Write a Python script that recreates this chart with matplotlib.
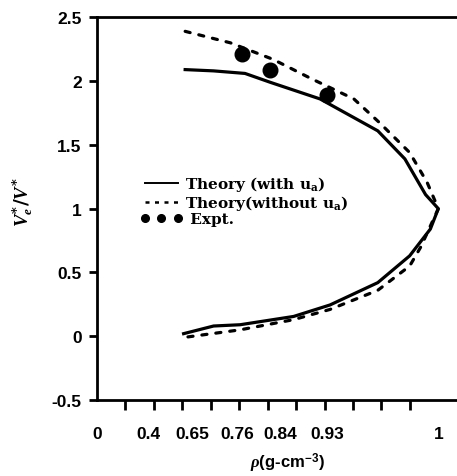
"""V_e*/V* versus density: theory with/without u_a and experiment."""
import matplotlib
matplotlib.use("Agg")
import matplotlib.pyplot as plt
from matplotlib.lines import Line2D
import numpy as np

plt.rcParams["mathtext.fontset"] = "custom"
plt.rcParams["mathtext.rm"] = "DejaVu Serif:bold"
plt.rcParams["mathtext.it"] = "Liberation Serif:italic:bold"
plt.rcParams["mathtext.bf"] = "DejaVu Serif:bold"
plt.rcParams["mathtext.sf"] = "Liberation Sans:bold"

# ── Data ───────────────────────────────────────────────────────────────────
# theory with u_a, upper and lower branch
SOLID_UP_RHO = [0.611, 0.703, 0.775, 0.822, 0.917, 0.962, 0.979, 0.992, 1.0]
SOLID_UP_V   = [2.09, 2.08, 2.06, 1.99, 1.86, 1.61, 1.39, 1.11, 1.0]
SOLID_LO_RHO = [0.602, 0.703, 0.766, 0.866, 0.932, 0.962, 0.982, 0.995, 1.0]
SOLID_LO_V   = [0.02, 0.08, 0.09, 0.155, 0.245, 0.42, 0.63, 0.84, 1.0]
# theory without u_a
DASH_UP_RHO = [0.611, 0.744, 0.827, 0.902, 0.947, 0.963, 0.982, 0.993, 1.0]
DASH_UP_V   = [2.39, 2.30, 2.17, 2.015, 1.86, 1.675, 1.44, 1.205, 1.0]
DASH_LO_RHO = [0.602, 0.766, 0.866, 0.932, 0.962, 0.982, 0.989, 1.0]
DASH_LO_V   = [-0.01, 0.05, 0.13, 0.21, 0.36, 0.55, 0.70, 1.0]
# experiment
EXP_RHO = [0.769, 0.822, 0.930]
EXP_V   = [2.21, 2.09, 1.89]

X_LABELS = ["0", "0.4", "0.65", "0.76", "0.84", "0.93", "1"]
X_VALUES = [0.0, 0.4, 0.65, 0.76, 0.84, 0.93, 1.0]
Y_TICKS  = [-0.5, 0, 0.5, 1, 1.5, 2, 2.5]
Y_LABELS = ["-0.5", "0", "0.5", "1", "1.5", "2", "2.5"]

# the density axis of the original is hand-labelled, not linear:
# label position along the axis (arbitrary units) for each labelled value
POS_KNOTS = [96.7, 148.3, 191.7, 236.7, 280.0, 326.7, 438.3, 597.7]
RHO_KNOTS = X_VALUES + [1.1]


def fwd(x):
    return np.interp(x, RHO_KNOTS, POS_KNOTS)


def inv(u):
    return np.interp(u, POS_KNOTS, RHO_KNOTS)


# ── Canvas ─────────────────────────────────────────────────────────────────
fig = plt.figure(figsize=(4.57, 4.77), dpi=100)
ax = fig.add_axes([97 / 457, 76 / 477, 359 / 457, 382.7 / 477])
ax.set_xscale("function", functions=(fwd, inv))

up_x = np.concatenate([SOLID_UP_RHO, SOLID_LO_RHO[::-1]])
up_y = np.concatenate([SOLID_UP_V, SOLID_LO_V[::-1]])
ax.plot(up_x, up_y, color="black", lw=2.3, solid_joinstyle="round")

dash_x = np.concatenate([DASH_UP_RHO, DASH_LO_RHO[::-1]])
dash_y = np.concatenate([DASH_UP_V, DASH_LO_V[::-1]])
ax.plot(dash_x, dash_y, color="black", lw=2.3, dashes=(1.6, 2.8),
        dash_capstyle="round")

ax.plot(EXP_RHO, EXP_V, ls="none", marker="o", ms=10.5, color="black")

# ── Axes styling ───────────────────────────────────────────────────────────
ax.set_xlim(0, inv(456))
ax.set_ylim(-0.5, 2.5)
for s in ["left", "top", "bottom"]:
    ax.spines[s].set_linewidth(2.0)
ax.spines["right"].set_visible(False)

ax.set_xticks(X_VALUES)
ax.set_xticklabels(X_LABELS)
ax.set_xticks(inv(96.7 + np.arange(13) * (438.3 - 96.7) / 12), minor=True)
ax.tick_params(axis="x", which="major", length=0, pad=19)
ax.tick_params(axis="x", which="minor", length=7, width=2, direction="out")

ax.set_yticks(Y_TICKS)
ax.set_yticklabels(Y_LABELS)
ax.tick_params(axis="y", which="major", length=6, width=2, direction="out",
               pad=5)
ax.tick_params(axis="y", which="minor", left=False)

for lab in ax.get_xticklabels() + ax.get_yticklabels():
    lab.set_fontfamily("Liberation Sans")
    lab.set_fontweight("bold")
    lab.set_fontsize(12.5)

ax.set_xlabel(r"$\rho$(g-cm$^{\mathsf{-3}}$)", fontsize=12,
              fontfamily="Liberation Sans", fontweight="bold")
ax.xaxis.set_label_coords((287 - 97) / 359, -(463 - 401) / 382.7)
ax.xaxis.label.set_va("center")
ax.set_ylabel(r"$V_e^{*}/V^{*}$", fontsize=13.5)
ax.yaxis.set_label_coords(-(97 - 24) / 359, (401 - 202) / 382.7)
ax.yaxis.label.set_va("center")

# ── Legend ─────────────────────────────────────────────────────────────────
handles = [
    Line2D([], [], color="black", lw=1.4),
    Line2D([], [], color="black", lw=1.8, dashes=(1.6, 2.2)),
    Line2D([], [], ls="none", marker="o", ms=5.5, color="black"),
]
labels = [r"Theory (with u$_{\mathrm{a}}$)",
          r"Theory(without u$_{\mathrm{a}}$)",
          " Expt."]
ax.legend(handles, labels, loc="center left",
          bbox_to_anchor=((140 - 97) / 359, (401 - 201) / 382.7),
          frameon=False, borderpad=0, borderaxespad=0, numpoints=3,
          handlelength=2.8, handletextpad=0.15, labelspacing=0.0,
          prop={"family": "DejaVu Serif", "weight": "bold", "size": 11})

fig.savefig("out.png", dpi=100, facecolor="white")
